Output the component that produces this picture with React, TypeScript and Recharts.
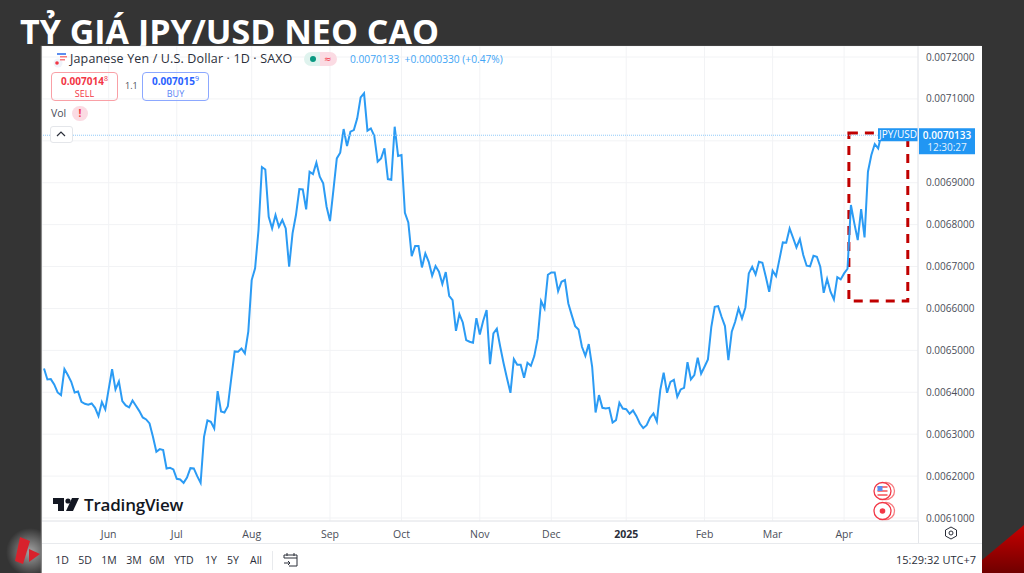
import React from "react";
import { LineChart, Line, XAxis, YAxis, CartesianGrid, ReferenceLine, ReferenceArea } from "recharts";

const closeJunToSep = [
  0.0064569, 0.0064306, 0.0064314, 0.0064187, 0.0063996, 0.0063932, 0.0064553, 0.006441, 0.006425, 0.0063996,
  0.006402, 0.0063773, 0.0063725, 0.0063701, 0.0063733, 0.006363, 0.0063431, 0.0063765, 0.006359, 0.0064075,
  0.0064553, 0.0064067, 0.0064258, 0.0063789, 0.0063685, 0.0063638, 0.0063805, 0.0063677, 0.006355, 0.0063399,
  0.0063351, 0.0063256, 0.0062938, 0.0062579, 0.0062643, 0.0062619, 0.0062182, 0.0062198, 0.0062158, 0.0061935,
  0.0061919, 0.0061839, 0.0061967, 0.0062189, 0.0062182, 0.0061998, 0.0061839, 0.0062938, 0.0063327, 0.0063296,
  0.0063136, 0.0064028, 0.0063542, 0.0063518, 0.0063669, 0.006433, 0.0064974, 0.0064966, 0.0065046, 0.0064927,
  0.0065444, 0.0066677, 0.0066956, 0.0067871, 0.0069374, 0.0069315, 0.0068189, 0.0067911, 0.0068229, 0.006795,
  0.006811, 0.0067911, 0.0066996, 0.0067791, 0.0068229, 0.0068849,
];
const closeSepToDec = [
  0.0068841, 0.0068364, 0.0069263, 0.0069207, 0.0069478, 0.0069143, 0.0068984, 0.0068427, 0.0068085, 0.0068825,
  0.0069581, 0.0069716, 0.0070281, 0.0069876, 0.0070218, 0.0070257, 0.0070536, 0.0071037, 0.0071133, 0.0070242,
  0.0070297, 0.0070122, 0.0069502, 0.0069581, 0.006982, 0.0069088, 0.0069072, 0.0070337, 0.0069637, 0.0069661,
  0.0068284, 0.0068053, 0.006725, 0.0067488, 0.0067488, 0.0066979, 0.0067313, 0.0067114, 0.006678, 0.0067011,
  0.0066876, 0.0066581, 0.0066868, 0.0066303, 0.0066199, 0.0065467, 0.0065865, 0.0065666, 0.0065245, 0.0065205,
  0.0065181, 0.006577, 0.006538, 0.0065706, 0.0065961, 0.0064672, 0.0065404, 0.0065515, 0.0065085, 0.0064688,
  0.0064329, 0.0063987, 0.0064791, 0.0064656, 0.0064656, 0.0064345, 0.0064703, 0.0064632, 0.0064863, 0.0065284,
  0.0066176, 0.0066, 0.0066804, 0.006686, 0.006686, 0.0066414, 0.0066637, 0.0066677, 0.006612, 0.0065841,
];
const closeDecToApr = [
  0.0065579, 0.0065499, 0.0065085, 0.006487, 0.0065149, 0.0064608, 0.0063518, 0.0063932, 0.0063629, 0.0063613,
  0.0063629, 0.0063279, 0.0063335, 0.0063749, 0.0063613, 0.0063597, 0.0063486, 0.0063566, 0.006343, 0.0063255,
  0.0063144, 0.0063215, 0.006339, 0.0063494, 0.0063303, 0.0064051, 0.0064465, 0.0063987, 0.006425, 0.0064298,
  0.0063892, 0.0064067, 0.0064107, 0.0064719, 0.0064306, 0.0064409, 0.0064823, 0.0064441, 0.0064608, 0.0064783,
  0.0065563, 0.006604, 0.0066056, 0.0065801, 0.0065579, 0.0064767, 0.0065443, 0.0065682, 0.0066, 0.0065762,
  0.0066024, 0.0066836, 0.0066995, 0.0066812, 0.0067114, 0.0067091, 0.0066756, 0.0066398, 0.00669, 0.0066772,
  0.006717, 0.0067576, 0.0067568, 0.006791, 0.0067687, 0.0067457, 0.0067655, 0.0067274, 0.0067019, 0.0067003,
  0.0067258, 0.0067234, 0.0066995, 0.0066374, 0.0066701, 0.0066398, 0.0066215, 0.0066748, 0.0066693, 0.0066836,
  0.0066947,
];
const closeApril = [0.0068468, 0.006803, 0.0067632, 0.0068372, 0.0067696, 0.0069263, 0.0069661, 0.0069924, 0.006982, 0.0070178, 0.0070133];

const closes = [...closeJunToSep, ...closeSepToDec, ...closeDecToApr, ...closeApril];
const chartData = closes.map((close, bar) => ({ bar, close }));

const monthBars = [19, 39, 61, 84, 105, 128, 149, 171, 194, 214, 235];
const monthLabels = ["Jun", "Jul", "Aug", "Sep", "Oct", "Nov", "Dec", "2025", "Feb", "Mar", "Apr"];
const priceTicks = [0.0061, 0.0062, 0.0063, 0.0064, 0.0065, 0.0066, 0.0067, 0.0068, 0.0069, 0.007, 0.0071, 0.0072];
const rangeButtons = ["1D", "5D", "1M", "3M", "6M", "YTD", "1Y", "5Y", "All"];
const rangeButtonX = [62, 85, 109, 134, 157, 184, 211, 233, 256];
const lastPrice = 0.0070133;
const coveredPriceTick = 0.007;

const UI = "'Open Sans', 'Noto Sans', sans-serif";
const abs = (left: number, top: number, extra: React.CSSProperties = {}): React.CSSProperties => ({
  position: "absolute", left, top, whiteSpace: "nowrap", ...extra,
});

const MonthTick = (props: any) => {
  const { x, y, payload } = props;
  const label = monthLabels[monthBars.indexOf(payload.value)];
  return (
    <text x={x} y={y + 9} textAnchor="middle" fontFamily={UI} fontSize={10.5}
      fontWeight={label === "2025" ? 700 : 400} fill={label === "2025" ? "#2a2e39" : "#4a4e59"}>
      {label}
    </text>
  );
};

const PriceLabel = (props: any) => {
  const { x, y, width } = props.viewBox;
  const end = x + width;
  return (
    <g fontFamily={UI}>
      <rect x={end - 40} y={y - 7} width={40} height={13} fill="#2196f3" />
      <text x={end - 20} y={y + 3} textAnchor="middle" fontSize={10} fill="#ffffff">JPY/USD</text>
      <rect x={end + 1} y={y - 7} width={56} height={26} fill="#2196f3" />
      <text x={end + 29} y={y + 4} textAnchor="middle" fontSize={10} fontWeight={600} fill="#ffffff">0.0070133</text>
      <text x={end + 29} y={y + 16} textAnchor="middle" fontSize={10} fill="#e3f2fd">12:30:27</text>
    </g>
  );
};

export default function App() {
  return (
    <div style={{ position: "fixed", left: 0, top: 0, width: 1024, height: 573, overflow: "hidden", background: "#343434" }}>
      {/* corner decorations of the slide */}
      <svg width={1024} height={573} style={{ position: "absolute", left: 0, top: 0 }}>
        <defs>
          <radialGradient id="glow">
            <stop offset="0%" stopColor="#ffffff" stopOpacity={0.55} />
            <stop offset="100%" stopColor="#ffffff" stopOpacity={0} />
          </radialGradient>
          <linearGradient id="corner" x1="0" y1="0" x2="0" y2="1">
            <stop offset="0%" stopColor="#c80000" />
            <stop offset="100%" stopColor="#700000" />
          </linearGradient>
        </defs>
        <circle cx={30} cy={552} r={24} fill="url(#glow)" />
        <polygon points="20,537 30,541 23,564 15,561" fill="#d8222c" />
        <polygon points="29,549 40,554 29,562" fill="#d8222c" />
        <polygon points="982,560 1024,525 1024,573 982,573" fill="url(#corner)" />
      </svg>

      <div style={abs(20, 16, { fontFamily: UI, fontWeight: 700, fontSize: 34, lineHeight: "30px", color: "#ffffff" })}>TỶ GIÁ JPY/USD NEO CAO</div>

      {/* white panel */}
      <div style={{ position: "absolute", left: 42, top: 46, width: 940, height: 527, background: "#ffffff", boxShadow: "-1px 0 1px #888" }} />

      <div style={{ position: "absolute", left: 42, top: 46 }}>
        <LineChart width={940} height={497} data={chartData} margin={{ top: 0, right: 0, bottom: 0, left: 0 }}>
          <CartesianGrid stroke="#f2f3f5" strokeWidth={1} />
          <XAxis dataKey="bar" type="number" domain={[-0.587, 256.7]} ticks={monthBars} interval={0} height={22}
            allowDataOverflow tick={<MonthTick />} tickLine={false} axisLine={{ stroke: "#e4e6ea" }} />
          <YAxis orientation="right" width={64} type="number" domain={[0.00609284, 0.00722625]} ticks={priceTicks} interval={0}
            allowDataOverflow tickFormatter={(v: number) => (v === coveredPriceTick ? "" : v.toFixed(7))} tickLine={false} axisLine={{ stroke: "#e4e6ea" }}
            tick={{ fontFamily: UI, fontSize: 10, fill: "#4a4e59" }} />
          <Line type="linear" dataKey="close" stroke="#2b9bf4" strokeWidth={2} dot={false} isAnimationActive={false} />
          <ReferenceLine y={lastPrice} stroke="#90caf9" strokeDasharray="1 1" strokeWidth={1} label={PriceLabel} />
          <ReferenceArea x1={236.4} x2={253.7} y1={0.0066176} y2={0.0070186} fill="none" fillOpacity={0}
            stroke="#c00000" strokeWidth={3} strokeDasharray="9 7" />
        </LineChart>
      </div>

      {/* header */}
      <svg width={20} height={16} style={{ position: "absolute", left: 52, top: 52 }}>
        <circle cx={6} cy={11} r={4.5} fill="#f0f3fa" />
        <circle cx={5} cy={11} r={1.8} fill="#f23645" />
        <rect x={5} y={1} width={9} height={2} fill="#5b8def" />
        <rect x={8} y={4} width={7} height={1.5} fill="#f77c80" />
        <rect x={8} y={7} width={5} height={1.5} fill="#f77c80" />
      </svg>
      <div style={abs(70, 50, { fontFamily: UI, fontSize: 12.5, color: "#2a2e39", letterSpacing: 0.15 })}>Japanese Yen / U.S. Dollar · 1D · SAXO</div>
      <div style={{ position: "absolute", left: 304, top: 52, width: 16, height: 14, background: "#dff3ee", borderRadius: "7px 0 0 7px" }} />
      <div style={{ position: "absolute", left: 320, top: 52, width: 17, height: 14, background: "#fbdbe3", borderRadius: "0 7px 7px 0" }} />
      <div style={{ position: "absolute", left: 310, top: 56, width: 6, height: 6, background: "#089981", borderRadius: 3 }} />
      <div style={abs(324, 52, { fontFamily: "'DejaVu Sans', sans-serif", fontSize: 9, lineHeight: "14px", color: "#f23645" })}>≈</div>
      <div style={abs(350, 52, { fontFamily: UI, fontSize: 10.2, color: "#42a5f5" })}>0.0070133&nbsp; +0.0000330 (+0.47%)</div>

      {/* sell & buy */}
      <div style={{ position: "absolute", left: 51, top: 72, width: 65, height: 27, border: "1px solid #f9a0a6", borderRadius: 4, fontFamily: UI, textAlign: "center", color: "#f23645" }}>
        <div style={{ fontSize: 10, fontWeight: 700, lineHeight: "14px", marginTop: 1 }}>0.007014<sup style={{ fontSize: 7, fontWeight: 400, lineHeight: 0 }}>8</sup></div>
        <div style={{ fontSize: 9, lineHeight: "11px" }}>SELL</div>
      </div>
      <div style={abs(125, 79, { fontFamily: UI, fontSize: 9, color: "#4a4e59" })}>1.1</div>
      <div style={{ position: "absolute", left: 142, top: 72, width: 65, height: 27, border: "1px solid #8ca8ff", borderRadius: 4, fontFamily: UI, textAlign: "center", color: "#2962ff" }}>
        <div style={{ fontSize: 10, fontWeight: 700, lineHeight: "14px", marginTop: 1 }}>0.007015<sup style={{ fontSize: 7, fontWeight: 400, lineHeight: 0 }}>9</sup></div>
        <div style={{ fontSize: 9, lineHeight: "11px", color: "#5c86f5" }}>BUY</div>
      </div>

      <div style={abs(51, 106, { fontFamily: UI, fontSize: 10.5, color: "#4a4e59" })}>Vol</div>
      <div style={{ position: "absolute", left: 72, top: 106, width: 16, height: 15, borderRadius: 8, background: "#fbdbe3", color: "#f23645", fontFamily: UI, fontSize: 10, fontWeight: 700, textAlign: "center", lineHeight: "15px" }}>!</div>
      <div style={{ position: "absolute", left: 50, top: 126, width: 21, height: 15, border: "1px solid #e4e6ea", borderRadius: 3, background: "#fff" }} />
      <svg width={10} height={6} style={{ position: "absolute", left: 56, top: 131 }}><path d="M1 5 L5 1 L9 5" fill="none" stroke="#2a2e39" strokeWidth={1.2} /></svg>

      {/* TradingView mark */}
      <svg width={26} height={15} style={{ position: "absolute", left: 53, top: 497 }}>
        <path d="M0 1 H11 V14 H5 V7 H0 Z" fill="#131722" />
        <circle cx={15} cy={4} r={2.6} fill="#131722" />
        <path d="M19 1 H26 L20 14 H13 Z" fill="#131722" />
      </svg>
      <div style={abs(84, 493, { fontFamily: UI, fontSize: 17, fontWeight: 600, color: "#131722", letterSpacing: -0.2 })}>TradingView</div>

      {/* event markers */}
      <svg width={30} height={50} style={{ position: "absolute", left: 868, top: 478 }}>
        <circle cx={18} cy={13} r={8.5} fill="#fff" stroke="#f77c80" strokeWidth={1.3} />
        <circle cx={14.5} cy={13} r={8.5} fill="#fff" stroke="#f23645" strokeWidth={1.3} />
        <rect x={9.5} y={8} width={10} height={2} fill="#f77c80" />
        <rect x={9.5} y={12} width={10} height={2} fill="#f77c80" />
        <rect x={9.5} y={16} width={10} height={2} fill="#f77c80" />
        <rect x={9.5} y={8} width={5} height={5} fill="#5b8def" />
        <circle cx={18} cy={33} r={8.5} fill="#fff" stroke="#f77c80" strokeWidth={1.3} />
        <circle cx={14.5} cy={33} r={8.5} fill="#fff" stroke="#f23645" strokeWidth={1.3} />
        <circle cx={14.5} cy={33} r={2.8} fill="#f23645" />
      </svg>

      {/* bottom bars */}
      <div style={{ position: "absolute", left: 42, top: 543, width: 940, height: 1, background: "#e8eaed" }} />
      <div style={{ position: "absolute", left: 918, top: 521, width: 1, height: 22, background: "#e4e6ea" }} />
      <svg width={14} height={14} style={{ position: "absolute", left: 944, top: 526 }}>
        <path d="M7 1 L12.5 4 V10 L7 13 L1.5 10 V4 Z" fill="none" stroke="#2a2e39" strokeWidth={1} />
        <circle cx={7} cy={7} r={2} fill="none" stroke="#2a2e39" strokeWidth={1} />
      </svg>
      {rangeButtons.map((b, i) => (
        <div key={b} style={{ ...abs(rangeButtonX[i] - 15, 553, { width: 30, textAlign: "center", fontFamily: UI, fontSize: 10.5, color: "#2a2e39" }) }}>{b}</div>
      ))}
      <div style={{ position: "absolute", left: 272, top: 551, width: 1, height: 19, background: "#e8eaed" }} />
      <svg width={16} height={16} style={{ position: "absolute", left: 283, top: 552 }}>
        <path d="M1 6 V3 H14 V14 H6 M1 6 H14 M4 1 V4 M11 1 V4 M1 11 H7 M5 9 L7 11 L5 13" fill="none" stroke="#2a2e39" strokeWidth={1} />
      </svg>
      <div style={abs(885, 552, { width: 91, textAlign: "right", fontFamily: UI, fontSize: 11, color: "#2a2e39" })}>15:29:32 UTC+7</div>
    </div>
  );
}
